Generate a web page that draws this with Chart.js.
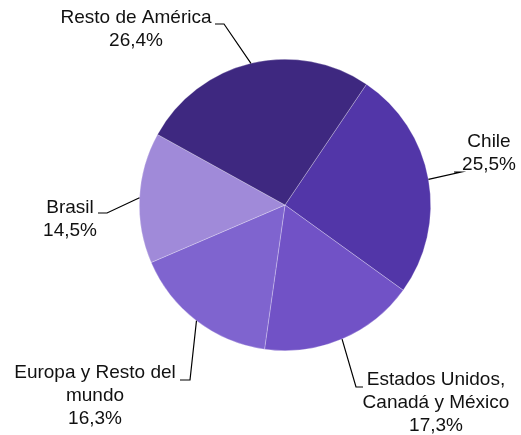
<!DOCTYPE html>
<html>
<head>
<meta charset="utf-8">
<script src="https://cdn.jsdelivr.net/npm/chart.js@4.4.1/dist/chart.umd.min.js"></script>
<style>
  html, body { margin: 0; padding: 0; background: #ffffff; }
  #wrap { width: 521px; height: 435px; }
</style>
</head>
<body>
<div id="wrap"><canvas id="pieChart" width="521" height="435"></canvas></div>
<script>
// 데이터
const regions = ["Chile", "Estados Unidos, Canadá y México", "Europa y Resto del mundo", "Brasil", "Resto de América"];
const shares = [25.5, 17.3, 16.3, 14.5, 26.4];
const sliceColors = ["#5236a8", "#7152c6", "#7f64cf", "#a08ad9", "#3e2880"];

// 라벨 줄바꿈 + 위치 (텍스트 중심, 꺾임점, 끝점)
const labelLayout = [
  { lines: ["Chile"], cx: 489, y: 142, elbow: [461, 172], end: [454, 172] },
  { lines: ["Estados Unidos,", "Canadá y México"], cx: 436, y: 380, elbow: [356, 387], end: [363, 387] },
  { lines: ["Europa y Resto del", "mundo"], cx: 95, y: 373, elbow: [190, 380], end: [180, 380] },
  { lines: ["Brasil"], cx: 70, y: 208, elbow: [107, 213], end: [98, 213] },
  { lines: ["Resto de América"], cx: 136, y: 18, elbow: [224, 24], end: [215, 24] },
];

function fmtPct(v) {
  return v.toFixed(1).replace(".", ",") + "%";
}

const calloutPlugin = {
  id: "callouts",
  afterDatasetsDraw(chart) {
    const ctx = chart.ctx;
    const arcs = chart.getDatasetMeta(0).data;
    ctx.save();
    ctx.font = '19px "Liberation Sans", Arial, sans-serif';
    ctx.fillStyle = "#111111";
    ctx.textAlign = "center";
    ctx.textBaseline = "middle";
    ctx.strokeStyle = "#000000";
    ctx.lineWidth = 1.2;
    arcs.forEach((arc, i) => {
      const lay = labelLayout[i];
      const mid = (arc.startAngle + arc.endAngle) / 2;
      const px = arc.x + Math.cos(mid) * arc.outerRadius;
      const py = arc.y + Math.sin(mid) * arc.outerRadius;
      ctx.beginPath();
      ctx.moveTo(px, py);
      ctx.lineTo(lay.elbow[0], lay.elbow[1]);
      ctx.lineTo(lay.end[0], lay.end[1]);
      ctx.stroke();
      const lines = lay.lines.concat([fmtPct(shares[i])]);
      lines.forEach((t, k) => {
        ctx.fillText(t, lay.cx, lay.y + k * 22.8);
      });
    });
    ctx.restore();
  },
};

const ctx = document.getElementById("pieChart").getContext("2d");
new Chart(ctx, {
  type: "pie",
  data: {
    labels: regions,
    datasets: [
      {
        data: shares,
        backgroundColor: sliceColors,
        borderColor: "rgba(255,255,255,0.45)",
        borderWidth: 0.6,
      },
    ],
  },
  options: {
    responsive: false,
    animation: false,
    rotation: 34,
    layout: {
      padding: { left: 139, right: 90, top: 58, bottom: 83 },
    },
    plugins: {
      legend: { display: false },
      title: { display: false },
      tooltip: { enabled: false },
    },
  },
  plugins: [calloutPlugin],
});
</script>
</body>
</html>
